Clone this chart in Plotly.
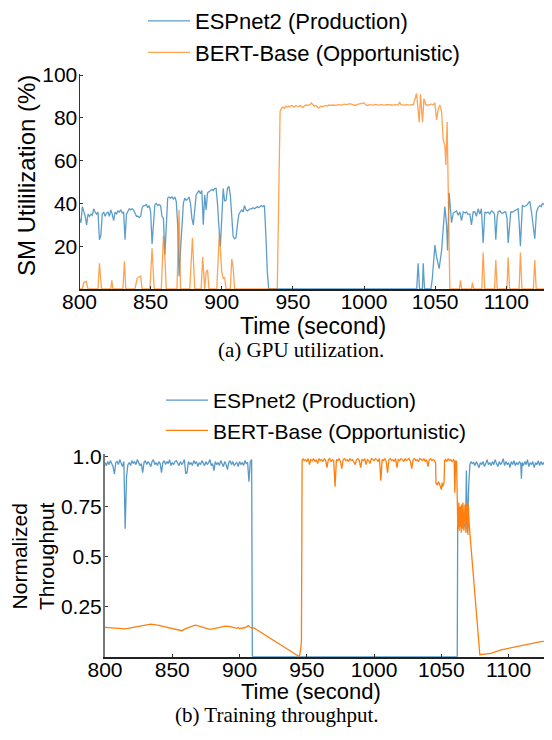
import plotly.graph_objects as go

# ---------------- data: (a) GPU utilization ----------------
sm_esp_t = [800, 801, 802, 803, 804, 805, 806, 807, 808, 809, 810, 811, 812, 813, 814, 815, 816, 817, 818, 819,
            820, 821, 822, 823, 824, 825, 826, 827, 828, 829, 830, 831, 832, 833, 834, 835, 836, 837, 838, 839,
            840, 841, 842, 843, 844, 845, 846, 847, 848, 849, 850, 851, 852, 853, 854, 855, 856, 857, 858, 859,
            860, 861, 862, 863, 864, 865, 866, 867, 868, 869, 870, 871, 872, 873, 874, 875, 876, 877, 878, 879,
            880, 881, 882, 883, 884, 885, 886, 887, 888, 889, 890, 891, 892, 893, 894, 895, 896, 897, 898, 899,
            900, 901, 902, 903, 904, 905, 906, 907, 908, 909, 910, 911, 912, 913, 914, 915, 916, 917, 918, 919,
            920, 921, 922, 923, 924, 925, 926, 927, 928, 929, 930, 931, 932, 933, 1037, 1038, 1039, 1041, 1041.6,
            1042.5, 1047, 1048, 1049.8, 1051, 1052.8, 1054.5, 1055.6, 1056.8, 1058, 1058.7, 1059.8, 1061.5, 1062.7,
            1064, 1065, 1066.2, 1067.3, 1068.5, 1069.7, 1071, 1072, 1073, 1074.4, 1075.5, 1076.7, 1077.9, 1079,
            1080.2, 1081.4, 1082.5, 1083.7, 1084.9, 1086, 1087.2, 1088.4, 1089.5, 1090.7, 1091.7, 1092.6, 1093.5,
            1094.2, 1095.5, 1096.6, 1097.8, 1098.7, 1099.6, 1100.5, 1101.3, 1102.2, 1103.1, 1104.3, 1105.5, 1107.1,
            1108.3, 1109.1, 1109.9, 1110.6, 1111.3, 1112.7, 1114.2, 1115.3, 1116.5, 1117.7, 1118.8, 1120, 1121.2,
            1122.3, 1123.5, 1124.5, 1125.4, 1126.5, 1127.7, 1128.6, 1129.4, 1130]
sm_esp_v = [33, 31, 38.5, 36, 34, 30, 35, 34, 35, 34.5, 37.5, 36, 35, 36, 23, 25, 35, 36, 34, 35.5,
            36, 34, 37, 35, 32, 36, 35, 36.5, 36, 37, 35.5, 36, 23, 35, 36, 37.5, 37, 37.5, 37, 35,
            34, 34, 33.5, 34, 38, 39, 39, 39.5, 38, 39, 36, 21, 33, 39.5, 40, 39, 39.5, 39, 34, 33,
            16, 30, 42.5, 43, 42.5, 43, 42, 43, 41, 30, 6, 18, 30, 40, 42.5, 41.5, 42, 43, 40, 33,
            30, 38, 44, 45, 46, 44.5, 46, 30, 44, 37, 45, 45.5, 46, 46.5, 46, 47, 47, 40, 29, 20,
            33, 47, 41, 41.5, 47, 48, 44, 35, 24.5, 23.5, 24, 30, 35, 36, 37, 36, 39, 37, 36.5, 37,
            37.5, 37.5, 38, 37.5, 38, 38.5, 38, 38.5, 39, 38.5, 39, 25, 8, 0, 0, 12, 0, 0, 12,
            0, 0, 5, 20.5, 15, 9.5, 18, 29, 38.5, 30, 18, 45, 31, 35.5,
            36, 36.5, 34.5, 36, 32, 36, 35.5, 36, 35, 35, 30, 36, 36, 34,
            37.5, 35, 37.5, 21.5, 36, 35.5, 36, 35, 36.5, 36, 35, 23, 33,
            36, 36.5, 35.5, 35.5, 36, 36, 33, 21.5, 30, 36, 36, 36.5, 37,
            37.5, 30, 20, 30, 39, 38.5, 39, 40, 41, 36, 30, 23.5, 36,
            38, 39, 38.5, 40, 39.5, 41, 38, 29, 29]

sm_bert_t = [800, 802, 803, 804.7, 806, 813, 814, 815.5, 822, 822.7, 823.5, 830.5, 831.6, 832.5, 839, 840.5,
             841.5, 843, 844, 849.5, 851, 852.5, 857.5, 859, 860, 861, 868.5, 870, 871, 877.5, 879.4, 881,
             885.5, 886.6, 888, 889, 890, 891, 896.5, 898.3, 900, 901, 902, 903, 906, 907, 908, 909, 939, 940,
             941, 942, 943, 944, 945, 946, 947, 948, 949, 950, 951, 952, 953, 954, 955, 956, 957, 958, 959,
             960, 961, 962, 963, 964, 965, 966, 967, 968, 969, 970, 971, 972, 973, 974, 975, 976, 978, 980,
             982, 984, 986, 988, 990, 992, 994, 996, 998, 1000, 1001, 1002, 1004, 1006, 1008, 1010, 1012,
             1014, 1016, 1018, 1020, 1022, 1024, 1025, 1026, 1028, 1030, 1032, 1034, 1034.6, 1036.9, 1038.8,
             1039.7, 1041.1, 1042.1, 1043.5, 1046, 1047, 1048.6, 1049.8, 1051, 1052.1, 1053.3, 1054.5, 1055.6,
             1056.8, 1057.5, 1058.4, 1059.2, 1060.3, 1067, 1067.8, 1068.6, 1075.5, 1076.2, 1077, 1082.8,
             1083.7, 1084.8, 1091.7, 1092.6, 1093.6, 1100.4, 1101.3, 1102.3, 1109, 1109.9, 1111, 1119, 1120,
             1121, 1127.5, 1130]
sm_bert_v = [0, 0, 3, 3.5, 0, 0, 12, 0, 0, 4, 0, 0, 13, 0, 0, 5,
             5.5, 6, 0, 0, 19, 0, 0, 25, 15, 0, 0, 37, 0, 0, 24, 0,
             0, 15, 0, 8, 9, 0, 0, 26, 8, 5, 5.5, 0, 0, 14, 10, 0, 0, 40,
             83, 84.5, 85, 84.5, 85.5, 85, 85.5, 85.2, 85.8, 85.5, 85, 85.8, 85.5, 85.2, 85.8, 85.3, 84.8, 85.5, 86,
             85.8, 86, 86.2, 87, 86.2, 85.5, 85.8, 85.2, 84.6, 85, 85.5, 85.2, 85.6, 85.8, 85.5, 86, 85.8, 86, 85.8,
             86.2, 86, 86.4, 86.2, 86.6, 86.2, 85.8, 86.4, 86.8, 87, 86.2, 85.8, 86.2, 86, 86.3, 86, 86.2,
             86, 86.2, 86, 86, 86.2, 86, 87.2, 86.2, 86, 86.2, 86, 86.3, 86, 91.4, 78,
             91, 78, 89, 86, 86, 86.5, 86, 87, 79, 84, 86, 83, 70,
             67, 58, 78, 50, 0, 0, 4, 0, 0, 3, 0, 0,
             17, 0, 0, 13.5, 0, 0, 14.7, 0, 0, 17, 0, 0, 13.5,
             0, 0, 13]

# ---------------- data: (b) training throughput ----------------
tp_esp_t = [800, 801, 802, 803, 804, 805, 806, 807, 808, 809, 810, 811, 812, 813, 814, 815, 816, 817, 818, 819,
            820, 821, 822, 823, 824, 825, 826, 827, 828, 829, 830, 831, 832, 833, 834, 835, 836, 837, 838, 839,
            840, 841, 842, 843, 844, 845, 846, 847, 848, 849, 850, 851, 852, 853, 854, 855, 856, 857, 858, 859,
            860, 861, 862, 863, 864, 865, 866, 867, 868, 869, 870, 871, 872, 873, 874, 875, 876, 877, 878, 879,
            880, 881, 882, 883, 884, 885, 886, 887, 888, 889, 890, 891, 892, 893, 894, 895, 896, 897, 898, 899,
            900, 901, 902, 903, 904, 905, 906, 907, 908, 909, 909.5, 1061.8, 1062.2, 1063, 1064, 1065, 1066,
            1067, 1068, 1068.6, 1069.3, 1070.3, 1071.2, 1072, 1073, 1074, 1075, 1076, 1077, 1078, 1079, 1080,
            1081, 1082, 1083, 1084, 1085, 1086, 1087, 1088, 1089, 1090, 1091, 1092, 1093, 1094, 1095, 1096,
            1097, 1098, 1099, 1100, 1101, 1102, 1103, 1104, 1105, 1106, 1107, 1108, 1109, 1109.5, 1110, 1111,
            1112, 1113, 1114, 1115, 1116, 1117, 1118, 1119, 1120, 1121, 1122, 1123, 1124, 1125, 1126, 1127,
            1128, 1129, 1130]
tp_esp_v = [0.97, 0.955, 0.975, 0.96, 0.98, 0.965, 0.95, 0.913, 0.97, 0.975, 0.96, 0.985, 0.965, 0.95, 0.975,
            0.64, 0.90, 0.96, 0.97, 0.955, 0.98, 0.965, 0.975, 0.96, 0.985, 0.97, 0.955, 0.965, 0.92, 0.97,
            0.98, 0.96, 0.975, 0.965, 0.95, 0.975, 0.985, 0.96, 0.97, 0.955, 0.975, 0.965, 0.92, 0.97, 0.98,
            0.96, 0.975, 0.965, 0.985, 0.955, 0.97, 0.96, 0.975, 0.98, 0.965, 0.955, 0.975, 0.96, 0.97, 0.985,
            0.915, 0.92, 0.975, 0.96, 0.97, 0.955, 0.98, 0.965, 0.975, 0.95, 0.97, 0.96, 0.98, 0.965, 0.955,
            0.975, 0.96, 0.97, 0.985, 0.955, 0.965, 0.93, 0.975, 0.96, 0.97, 0.955, 0.98, 0.965, 0.95, 0.975,
            0.96, 0.935, 0.97, 0.98, 0.96, 0.975, 0.955, 0.965, 0.97, 0.95, 0.975, 0.96, 0.97, 0.955, 0.98,
            0.965, 0.97, 0.875, 0.975, 0.985, 0.0, 0.0, 0.75, 0.70, 0.73, 0.68, 0.71,
            0.66, 0.64, 0.93, 0.62, 0.85, 0.96, 0.975, 0.965, 0.97, 0.955, 0.975, 0.96, 0.945, 0.97, 0.96,
            0.975, 0.95, 0.965, 0.985, 0.96, 0.97, 0.955, 0.975, 0.96, 0.985, 0.965, 0.95, 0.975, 0.96, 0.97, 0.99,
            0.955, 0.975, 0.96, 0.97, 0.945, 0.975, 0.96, 0.98, 0.955, 0.97, 0.96, 0.975, 0.965, 0.89, 0.97, 0.955,
            0.975, 0.96, 0.985, 0.95, 0.97, 0.96, 0.975, 0.945, 0.97, 0.96, 0.98, 0.955, 0.975, 0.96, 0.97, 0.95,
            0.975, 0.96, 0.97]

tp_bert_t = [800, 805, 810, 815, 820, 825, 830, 834, 840, 845, 850, 855, 857, 860, 864, 867, 870, 874, 877.7,
             882, 886, 889.4, 893, 896, 898, 899, 900, 901, 902, 903, 904, 905, 906.7, 907.5, 908.5, 909.5,
             910.5, 944.5, 945.5, 946, 946.5,
             947, 948, 949, 950, 951, 952, 953, 954, 955, 956, 957, 958, 959, 960, 961, 962, 963, 964, 965, 966,
             967, 968, 969, 970, 971, 972, 973, 974, 975, 976, 977, 978, 979, 980, 981, 982, 983, 984, 985, 986,
             987, 988, 989, 990, 991, 992, 993, 994, 995, 996, 997, 998, 999, 1000, 1001, 1002, 1003, 1004, 1005,
             1006, 1007, 1008, 1009, 1010, 1011, 1012, 1013, 1014, 1015, 1016, 1017, 1018, 1019, 1020, 1021, 1022,
             1023, 1024, 1025, 1026, 1027, 1028, 1029, 1030, 1031, 1032, 1033, 1034, 1035, 1036, 1037, 1038, 1039,
             1040, 1041, 1042, 1043, 1044, 1045, 1045.7, 1046, 1047, 1048, 1049, 1050, 1050.5, 1051, 1052, 1052.4,
             1053, 1054, 1055, 1056, 1057, 1058, 1059, 1059.5, 1060, 1060.6, 1061.3, 1061.8,
             1062, 1062.25, 1062.5, 1062.75, 1063, 1063.25, 1063.5, 1063.75, 1064, 1064.25, 1064.5, 1064.75,
             1065, 1065.25, 1065.5, 1065.75, 1066, 1066.25, 1066.5, 1066.75, 1067, 1067.25, 1067.5, 1067.75,
             1068, 1068.25, 1068.5, 1068.75, 1069, 1069.25, 1069.5, 1069.75, 1070, 1070.25, 1070.5, 1070.8,
             1078.6, 1086.7, 1095, 1105, 1115, 1124, 1130]
tp_bert_v = [0.147, 0.145, 0.141, 0.139, 0.145, 0.152, 0.159, 0.163, 0.157, 0.150, 0.143, 0.135, 0.130, 0.140,
             0.152, 0.158, 0.153, 0.143, 0.137, 0.142, 0.150, 0.153, 0.150, 0.145, 0.142, 0.146, 0.140, 0.144,
             0.141, 0.146, 0.143, 0.149, 0.155, 0.148, 0.145, 0.142, 0.145, 0.0, 0.04, 0.08, 0.98,
             0.99, 0.98, 0.985, 0.975, 0.99, 0.96, 0.985, 0.98, 0.99, 0.975, 0.985, 0.965, 0.99, 0.98, 0.985, 0.975,
             0.99, 0.98, 0.945, 0.985, 0.99, 0.975, 0.985, 0.98, 0.85, 0.985, 0.98, 0.99, 0.975, 0.94, 0.985, 0.99,
             0.98, 0.985, 0.975, 0.99, 0.98, 0.985, 0.975, 0.96, 0.985, 0.99, 0.98, 0.945, 0.985, 0.98, 0.99, 0.96,
             0.985, 0.98, 0.965, 0.99, 0.985, 0.98, 0.99, 0.985, 0.975, 0.99, 0.88, 0.985, 0.98, 0.99, 0.975, 0.92,
             0.985, 0.99, 0.98, 0.985, 0.975, 0.99, 0.945, 0.985, 0.98, 0.99, 0.985, 0.975, 0.99, 0.98, 0.985, 0.99,
             0.975, 0.94, 0.985, 0.99, 0.98, 0.985, 0.975, 0.99, 0.985, 0.98, 0.99, 0.975, 0.985, 0.95, 0.985, 0.99,
             0.98, 0.985, 0.98, 0.97, 0.865, 0.86, 0.875, 0.855, 0.835, 0.87, 0.85, 0.87, 0.98,
             0.985, 0.975, 0.99, 0.98, 0.985, 0.975, 0.985, 0.98, 0.82, 0.98, 0.975, 0.70,
             0.76, 0.64, 0.74, 0.66, 0.77, 0.63, 0.72, 0.68, 0.75, 0.65, 0.73, 0.62,
             0.76, 0.67, 0.71, 0.64, 0.77, 0.66, 0.74, 0.63, 0.72, 0.68, 0.76, 0.64,
             0.73, 0.62, 0.75, 0.66, 0.77, 0.65, 0.72, 0.61, 0.76, 0.66, 0.74, 0.65,
             0.01, 0.017, 0.035, 0.05, 0.062, 0.075, 0.078]

series_names = ["ESPnet2 (Production)", "BERT-Base (Opportunistic)"]
x_ticks = [800, 850, 900, 950, 1000, 1050, 1100]
sm_ticks = [20, 40, 60, 80, 100]
tp_ticks = [0.25, 0.5, 0.75, 1.0]
tp_tick_text = ["0.25", "0.5", "0.75", "1.0"]

# the page body has an 8px margin: the figure is sized so that it fits the 552x740 window exactly
OFF = 8
W, H = 552 - OFF, 740 - 2 * OFF
BLUE_A = "rgba(31,119,180,0.72)"
ORANGE_A = "rgba(255,127,14,0.72)"
BLUE_B = "rgba(31,119,180,0.75)"
ORANGE_B = "rgb(255,127,14)"
SANS = "Liberation Sans, Arial, sans-serif"
SERIF = "Liberation Serif, Times New Roman, serif"

fig = go.Figure()
fig.add_trace(go.Scatter(x=sm_esp_t, y=sm_esp_v, mode="lines", name=series_names[0],
                         line=dict(color=BLUE_A, width=1.3), xaxis="x", yaxis="y",
                         legend="legend", legendgroup="a1"))
fig.add_trace(go.Scatter(x=sm_bert_t, y=sm_bert_v, mode="lines", name=series_names[1],
                         line=dict(color=ORANGE_A, width=1.3), xaxis="x", yaxis="y",
                         legend="legend", legendgroup="a2"))
fig.add_trace(go.Scatter(x=tp_esp_t, y=tp_esp_v, mode="lines", name=series_names[0],
                         line=dict(color=BLUE_B, width=1.3), xaxis="x2", yaxis="y2",
                         legend="legend2", legendgroup="b1"))
fig.add_trace(go.Scatter(x=tp_bert_t, y=tp_bert_v, mode="lines", name=series_names[1],
                         line=dict(color=ORANGE_B, width=1.3), xaxis="x2", yaxis="y2",
                         legend="legend2", legendgroup="b2"))


def px_x(p):
    return (p - OFF) / W


def px_y(p):
    return 1 - (p - OFF) / H


tickfont = dict(family=SANS, size=21, color="black")
common_x = dict(range=[800, 1130], tickvals=x_ticks, ticks="inside", ticklen=3, tickcolor="#333",
                showgrid=False, zeroline=False, showline=True, linecolor="#222", linewidth=2,
                tickfont=tickfont, automargin=False, ticklabelstandoff=-7)
fig.update_layout(
    width=W, height=H, margin=dict(l=0, r=0, t=0, b=0, pad=0, autoexpand=False), autosize=False,
    paper_bgcolor="white", plot_bgcolor="white",
    xaxis=dict(domain=[px_x(79.5), px_x(549)], anchor="y", **common_x),
    yaxis=dict(domain=[px_y(289), px_y(74)], anchor="x", range=[0, 100.5], tickvals=sm_ticks,
               ticks="inside", ticklen=3, tickcolor="#333", showgrid=False, zeroline=False,
               showline=True, linecolor="#333", linewidth=1, tickfont=tickfont, automargin=False,
               ticklabelstandoff=-3),
    xaxis2=dict(domain=[px_x(105), px_x(549)], anchor="y2", **common_x),
    yaxis2=dict(domain=[px_y(656.7), px_y(454)], anchor="x2", range=[0, 1.013], tickvals=tp_ticks,
                ticktext=tp_tick_text, ticks="inside", ticklen=3, tickcolor="#333", showgrid=False,
                zeroline=False, showline=True, linecolor="#777", linewidth=2, tickfont=tickfont,
                automargin=False, ticklabelstandoff=-3),
    legend=dict(x=px_x(143), y=px_y(0), xanchor="left", yanchor="top", bgcolor="rgba(0,0,0,0)",
                font=dict(family=SANS, size=22, color="black"), itemwidth=42,
                traceorder="grouped", tracegroupgap=0),
    legend2=dict(x=px_x(161), y=px_y(380), xanchor="left", yanchor="top", bgcolor="rgba(0,0,0,0)",
                 font=dict(family=SANS, size=21, color="black"), itemwidth=42,
                 traceorder="grouped", tracegroupgap=0),
    showlegend=True,
)

ann = [
    dict(text="SM Utililization (%)", x=px_x(27), y=px_y(176), textangle=-90,
         font=dict(family=SANS, size=24, color="black")),
    dict(text="Time (second)", x=px_x(313), y=px_y(326),
         font=dict(family=SANS, size=23, color="black")),
    dict(text="(a) GPU utilization.", x=px_x(301), y=px_y(350),
         font=dict(family=SERIF, size=21, color="black")),
    dict(text="Normalized<br>Throughput", x=px_x(33), y=px_y(556), textangle=-90,
         font=dict(family=SANS, size=21, color="black")),
    dict(text="Time (second)", x=px_x(311), y=px_y(691),
         font=dict(family=SANS, size=22, color="black")),
    dict(text="(b) Training throughput.", x=px_x(277), y=px_y(715),
         font=dict(family=SERIF, size=21, color="black")),
]
for a in ann:
    a.update(xref="paper", yref="paper", showarrow=False, xanchor="center", yanchor="middle")
fig.update_layout(annotations=ann)

fig.write_html("out.html")
